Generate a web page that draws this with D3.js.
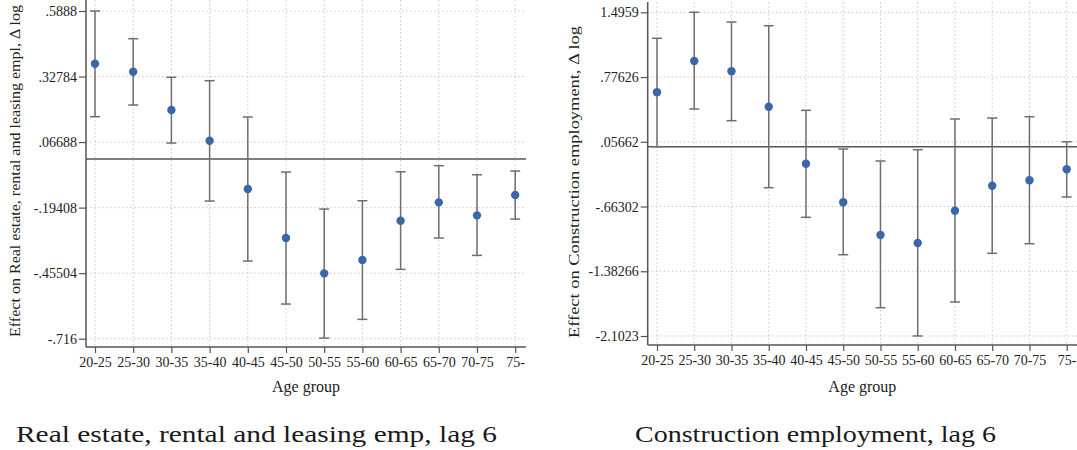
<!DOCTYPE html>
<html>
<head>
<meta charset="utf-8">
<script src="https://cdn.jsdelivr.net/npm/d3@7"></script>
<style>
  html, body { margin: 0; padding: 0; background: #fff; }
  svg { display: block; }
</style>
</head>
<body>
<svg id="chart" width="1077" height="450"></svg>
<script>
// Age groups shared by both panels
const ageGroups = ["20-25","25-30","30-35","35-40","40-45","45-50","50-55","55-60","60-65","65-70","70-75","75-"];

// Real estate, rental and leasing employment (lag 6): point estimate and 95% CI
const realEstateEst   = [0.379, 0.347, 0.1945, 0.0723, -0.1201, -0.3152, -0.4558, -0.4028, -0.2463, -0.1731, -0.2249, -0.144];
const realEstateLower = [0.168, 0.2144, 0.0631, -0.1679, -0.4068, -0.578, -0.7135, -0.639, -0.4399, -0.3152, -0.3842, -0.2396];
const realEstateUpper = [0.5888, 0.4785, 0.3248, 0.3113, 0.1667, -0.0524, -0.1997, -0.1667, -0.0512, -0.0272, -0.0631, -0.0484];
const realEstateTicks = [0.5888, 0.32784, 0.06688, -0.19408, -0.45504, -0.716];
const realEstateTickLabels = [".5888", ".32784", ".06688", "-.19408", "-.45504", "-.716"];

// Construction employment (lag 6): point estimate and 95% CI
const constructionEst   = [0.6066, 0.9546, 0.84, 0.4465, -0.187, -0.616, -0.9796, -1.0686, -0.7095, -0.4316, -0.3716, -0.2493];
const constructionLower = [0.002, 0.421, 0.291, -0.4538, -0.7829, -1.1986, -1.7878, -2.1023, -1.7244, -1.1831, -1.0764, -0.5572];
const constructionUpper = [1.2069, 1.4959, 1.388, 1.347, 0.4065, -0.0237, -0.157, -0.0314, 0.3099, 0.3209, 0.3354, 0.0566];
const constructionTicks = [1.4959, 0.77626, 0.05662, -0.66302, -1.38266, -2.1023];
const constructionTickLabels = ["1.4959", ".77626", ".05662", "-.66302", "-1.38266", "-2.1023"];

const SERIF = "Liberation Serif";
const svg = d3.select("#chart");

function drawPanel(p) {
  const g = svg.append("g");
  const x = d3.scalePoint().domain(ageGroups).range([p.x0, p.x1]);
  const y = d3.scaleLinear().domain([p.ticks[p.ticks.length - 1], p.ticks[0]]).range([p.yBottom, p.yTop]);

  // dotted grid
  g.append("g").selectAll("line").data(p.ticks).join("line")
    .attr("x1", p.axisX).attr("x2", p.right)
    .attr("y1", d => y(d)).attr("y2", d => y(d))
    .attr("stroke", "#c8c8c8").attr("stroke-width", 1).attr("stroke-dasharray", "1.5,2.5");
  g.append("g").selectAll("line").data(ageGroups).join("line")
    .attr("x1", d => x(d)).attr("x2", d => x(d))
    .attr("y1", p.top).attr("y2", p.axisY)
    .attr("stroke", "#c8c8c8").attr("stroke-width", 1).attr("stroke-dasharray", "1.5,2.5");

  // y axis
  const yAxis = d3.axisLeft(y).tickValues(p.ticks).tickSize(7).tickPadding(2)
    .tickFormat((d, i) => p.tickLabels[i]);
  const ya = g.append("g").attr("transform", `translate(${p.axisX},0)`).call(yAxis)
    .attr("font-family", SERIF);
  ya.select(".domain").attr("d", `M0,${p.top}V${p.axisY}`).attr("stroke", "#555").attr("stroke-width", 1.5);
  ya.selectAll(".tick line").attr("stroke", "#555").attr("stroke-width", 1.2);
  ya.selectAll("text").attr("font-family", SERIF).attr("font-size", 14).attr("fill", "#222");

  // x axis
  const xAxis = d3.axisBottom(x).tickSize(6).tickPadding(4);
  const xa = g.append("g").attr("transform", `translate(0,${p.axisY})`).call(xAxis)
    .attr("font-family", SERIF);
  xa.select(".domain").attr("d", `M${p.axisX},0H${p.right}`).attr("stroke", "#555").attr("stroke-width", 1.5);
  xa.selectAll(".tick line").attr("stroke", "#555").attr("stroke-width", 1.2);
  xa.selectAll("text").attr("font-family", SERIF).attr("font-size", 14).attr("fill", "#222");

  // zero reference line
  g.append("line")
    .attr("x1", p.axisX).attr("x2", p.right)
    .attr("y1", y(0)).attr("y2", y(0))
    .attr("stroke", "#555").attr("stroke-width", 1.5);

  // confidence intervals
  const rows = ageGroups.map((a, i) => ({ a, est: p.est[i], lo: p.lower[i], hi: p.upper[i] }));
  const ci = g.append("g").attr("stroke", "#6e6e6e").attr("stroke-width", 1.5).attr("fill", "none");
  ci.selectAll("line.v").data(rows).join("line").attr("class", "v")
    .attr("x1", d => x(d.a)).attr("x2", d => x(d.a))
    .attr("y1", d => y(d.lo)).attr("y2", d => y(d.hi));
  ci.selectAll("line.lo").data(rows).join("line").attr("class", "lo")
    .attr("x1", d => x(d.a) - 5).attr("x2", d => x(d.a) + 5)
    .attr("y1", d => y(d.lo)).attr("y2", d => y(d.lo));
  ci.selectAll("line.hi").data(rows).join("line").attr("class", "hi")
    .attr("x1", d => x(d.a) - 5).attr("x2", d => x(d.a) + 5)
    .attr("y1", d => y(d.hi)).attr("y2", d => y(d.hi));

  // point estimates
  g.append("g").selectAll("circle").data(rows).join("circle")
    .attr("cx", d => x(d.a)).attr("cy", d => y(d.est)).attr("r", 4.2)
    .attr("fill", "#3b66a8");

  // axis titles
  g.append("text")
    .attr("transform", `translate(${p.yTitleX},${p.yTitleY}) rotate(-90)`)
    .attr("text-anchor", "middle").attr("font-family", SERIF).attr("font-size", 15)
    .attr("fill", "#222")
    .attr("textLength", p.yTitleLen).attr("lengthAdjust", "spacingAndGlyphs")
    .text(p.yTitle);
  g.append("text")
    .attr("x", (p.axisX + p.right) / 2).attr("y", 392)
    .attr("text-anchor", "middle").attr("font-family", SERIF).attr("font-size", 16)
    .attr("fill", "#222")
    .text("Age group");

  // panel caption
  g.append("text")
    .attr("x", p.capX).attr("y", 442)
    .attr("font-family", SERIF).attr("font-size", 24)
    .attr("fill", "#1a1a1a")
    .attr("textLength", p.capLen).attr("lengthAdjust", "spacingAndGlyphs")
    .text(p.caption);
}

drawPanel({
  est: realEstateEst, lower: realEstateLower, upper: realEstateUpper,
  ticks: realEstateTicks, tickLabels: realEstateTickLabels,
  x0: 95, x1: 515.2, axisX: 86, right: 526, axisY: 347, top: 0,
  yTop: 11, yBottom: 338.7,
  yTitle: "Effect on Real estate, rental and leasing empl, \u0394 log",
  yTitleX: 20, yTitleY: 171, yTitleLen: 332,
  caption: "Real estate, rental and leasing emp, lag 6", capX: 16, capLen: 481
});

drawPanel({
  est: constructionEst, lower: constructionLower, upper: constructionUpper,
  ticks: constructionTicks, tickLabels: constructionTickLabels,
  x0: 657, x1: 1066.7, axisX: 647.7, right: 1077, axisY: 345, top: 2,
  yTop: 12.3, yBottom: 336,
  yTitle: "Effect on Construction employment, \u0394 log",
  yTitleX: 579, yTitleY: 182, yTitleLen: 312,
  caption: "Construction employment, lag 6", capX: 635, capLen: 361
});
</script>
</body>
</html>
